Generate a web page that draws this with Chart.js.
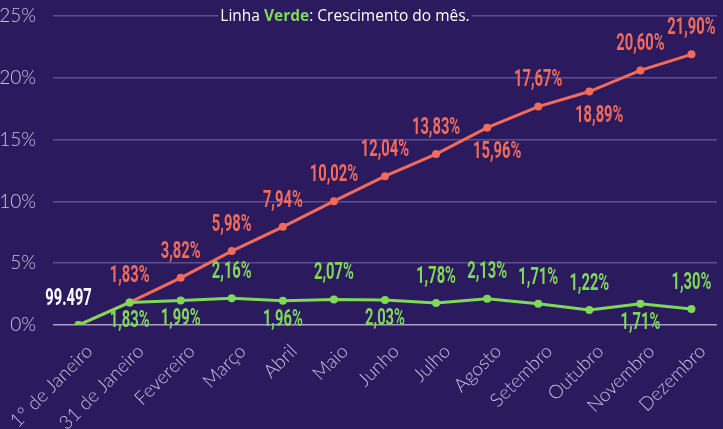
<!DOCTYPE html>
<html>
<head>
<meta charset="utf-8">
<script src="https://cdn.jsdelivr.net/npm/chart.js@4/dist/chart.umd.min.js"></script>
<style>
    html, body { margin: 0; padding: 0; background: #2c1a5e; }
    #wrap { width: 723px; height: 429px; position: relative; }
</style>
</head>
<body>
<div id="wrap"><canvas id="grafico"></canvas></div>
<script>
// Dados
const meses = ['1° de Janeiro', '31 de Janeiro', 'Fevereiro', 'Março', 'Abril', 'Maio', 'Junho',
    'Julho', 'Agosto', 'Setembro', 'Outubro', 'Novembro', 'Dezembro'];
const acumulado = [0, 1.83, 3.82, 5.98, 7.94, 10.02, 12.04, 13.83, 15.96, 17.67, 18.89, 20.60, 21.90];
const mensal = [0, 1.83, 1.99, 2.16, 1.96, 2.07, 2.03, 1.78, 2.13, 1.71, 1.22, 1.71, 1.30];
const valorInicial = '99.497';
const yTicks = [0, 5, 10, 15, 20, 25];

// lado do rótulo de cada ponto
const ladoVermelho = [null, 'top', 'top', 'top', 'top', 'top', 'top', 'top', 'bottom', 'top', 'bottom', 'top', 'top'];
const ladoVerde = ['top', 'bottom', 'bottom', 'top', 'bottom', 'top', 'bottom', 'top', 'top', 'top', 'top', 'bottom', 'top'];

const VERMELHO = '#f26b5b';
const VERDE = '#7ed957';
const FUNDO = '#2c1a5e';

function fmt(v) {
    return v.toFixed(2).replace('.', ',') + '%';
}

const rotulosPlugin = {
    id: 'rotulos',
    afterDatasetsDraw(chart) {
        const ctx = chart.ctx;
        chart.data.datasets.forEach((ds, di) => {
            const meta = chart.getDatasetMeta(di);
            const lados = di === 0 ? ladoVerde : ladoVermelho;
            meta.data.forEach((pt, i) => {
                const lado = lados[i];
                if (!lado) return;
                let txt = fmt(ds.data[i]);
                let cor = ds.borderColor;
                let dx = 0;
                if (di === 0 && i === 0) { txt = valorInicial; cor = '#ffffff'; dx = -10; }
                if (di === 1 && lado === 'bottom') dx = 10;
                const dy = lado === 'top' ? -26 : (di === 0 ? 19 : 25);
                ctx.save();
                ctx.translate(pt.x + dx, pt.y + dy);
                ctx.scale(0.64, 1);
                ctx.font = 'bold 23px Roboto';
                ctx.fillStyle = cor;
                ctx.textAlign = 'center';
                ctx.textBaseline = 'middle';
                ctx.fillText(txt, 0, 0);
                ctx.restore();
            });
        });
    }
};

const tituloPlugin = {
    id: 'titulo',
    afterDraw(chart) {
        const ctx = chart.ctx;
        const partes = [
            { t: 'Linha ', c: '#ffffff', f: '500 15.5px "Open Sans"' },
            { t: 'Verde', c: VERDE, f: 'bold 15.5px "Open Sans"' },
            { t: ': Crescimento do mês.', c: '#ffffff', f: '500 15.5px "Open Sans"' }
        ];
        let total = 0;
        partes.forEach(p => { ctx.font = p.f; p.w = ctx.measureText(p.t).width; total += p.w; });
        let x = 345 - total / 2;
        const y = 17;
        ctx.save();
        ctx.fillStyle = FUNDO;
        ctx.fillRect(x - 2, y - 9, total + 4, 18);
        ctx.textBaseline = 'middle';
        ctx.textAlign = 'left';
        partes.forEach(p => {
            ctx.font = p.f;
            ctx.fillStyle = p.c;
            ctx.fillText(p.t, x, y);
            x += p.w;
        });
        ctx.restore();
    }
};

const ctx = document.getElementById('grafico');
new Chart(ctx, {
    type: 'line',
    data: {
        labels: meses,
        datasets: [{
            label: 'Mensal',
            data: mensal,
            borderColor: VERDE,
            backgroundColor: VERDE,
            borderWidth: 3,
            pointRadius: 4,
            pointBackgroundColor: VERDE,
            pointBorderWidth: 0,
            tension: 0
        }, {
            label: 'Acumulado',
            data: acumulado,
            borderColor: VERMELHO,
            backgroundColor: VERMELHO,
            borderWidth: 3,
            pointRadius: 4,
            pointBackgroundColor: VERMELHO,
            pointBorderWidth: 0,
            tension: 0
        }]
    },
    options: {
        responsive: true,
        maintainAspectRatio: false,
        animation: false,
        layout: { padding: { top: 16, right: 6, left: 0, bottom: 0 } },
        plugins: {
            legend: { display: false },
            tooltip: { enabled: false },
            title: { display: false }
        },
        scales: {
            x: {
                offset: true,
                grid: { display: false, drawTicks: false },
                border: { display: false },
                ticks: {
                    color: '#c9c1db',
                    font: { family: 'Lato', size: 19, weight: 300 },
                    minRotation: 45,
                    maxRotation: 45,
                    autoSkip: false,
                    padding: 15,
                    labelOffset: 11
                },
                afterFit: s => { s.height = 104; s.paddingLeft = 0; s.paddingRight = 0; }
            },
            y: {
                min: 0,
                max: 25,
                afterBuildTicks: s => { s.ticks = yTicks.map(v => ({ value: v })); },
                grid: {
                    drawTicks: false,
                    color: c => c.tick && c.tick.value === 0 ? '#a89fc2' : '#5e4e8f',
                    lineWidth: 1.5
                },
                border: { display: false },
                ticks: {
                    color: '#c9c1db',
                    font: { family: 'Lato', size: 19, weight: 300 },
                    padding: 17,
                    callback: v => v + '%'
                },
                afterFit: s => { s.width = 53; s.paddingTop = 0; s.paddingBottom = 0; }
            }
        }
    },
    plugins: [rotulosPlugin, tituloPlugin]
});
</script>
</body>
</html>
